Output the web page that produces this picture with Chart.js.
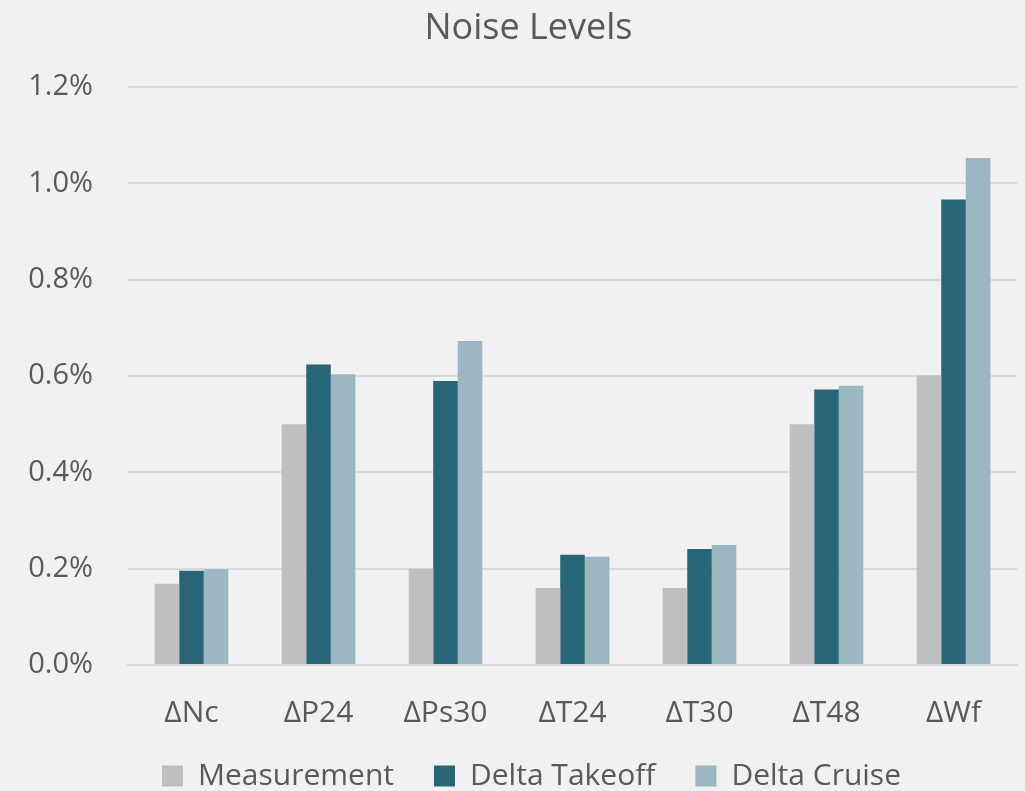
<!DOCTYPE html>
<html>
<head>
<meta charset="utf-8">
<script src="https://cdn.jsdelivr.net/npm/chart.js@4/dist/chart.umd.min.js"></script>
<style>
  html, body { margin: 0; padding: 0; background: #f1f1f1; }
  #wrap { width: 1025px; height: 791px; }
</style>
</head>
<body>
<div id="wrap"><canvas id="chart" width="1025" height="791"></canvas></div>
<script>
// Sensor parameters on the x axis
const categories = ['ΔNc', 'ΔP24', 'ΔPs30', 'ΔT24', 'ΔT30', 'ΔT48', 'ΔWf'];

// Noise levels, in percent
const measurement  = [0.169, 0.500, 0.200, 0.160, 0.160, 0.500, 0.601];
const deltaTakeoff = [0.196, 0.624, 0.590, 0.229, 0.241, 0.572, 0.967];
const deltaCruise  = [0.199, 0.604, 0.673, 0.225, 0.249, 0.580, 1.053];

const yTicks = [0, 0.2, 0.4, 0.6, 0.8, 1.0, 1.2];

const FONT = "'Open Sans', 'Noto Sans', sans-serif";
const TEXT = '#595959';

// Paint the page-grey background behind everything
const bgPlugin = {
  id: 'bg',
  beforeDraw(chart) {
    const c = chart.ctx;
    c.save();
    c.fillStyle = '#f1f1f1';
    c.fillRect(0, 0, chart.width, chart.height);
    c.restore();
  }
};

// Nudge title and legend: centre them a little right of the canvas middle,
// and lift the legend so the plot can use the space below the x labels.
const LEGEND_LIFT = 32;
const blockShift = {
  id: 'blockShift',
  afterLayout(chart) {
    const lg = chart.legend;
    if (lg) {
      lg.top -= LEGEND_LIFT;
      lg.bottom -= LEGEND_LIFT;
      lg.left += 46;
    }
    if (chart.titleBlock) chart.titleBlock.left += 40;
  }
};

new Chart(document.getElementById('chart'), {
  type: 'bar',
  data: {
    labels: categories,
    datasets: [
      { label: 'Measurement',   data: measurement,  backgroundColor: '#bfbfbf' },
      { label: 'Delta Takeoff', data: deltaTakeoff, backgroundColor: '#266677' },
      { label: 'Delta Cruise',  data: deltaCruise,  backgroundColor: '#9bb8c2' }
    ]
  },
  options: {
    responsive: false,
    animation: false,
    devicePixelRatio: 1,
    layout: { padding: { left: 0, right: 8, top: 5, bottom: -10 - LEGEND_LIFT } },
    datasets: { bar: { barPercentage: 1.0, categoryPercentage: 0.58 } },
    plugins: {
      title: {
        display: true,
        text: 'Noise Levels',
        color: TEXT,
        font: { family: FONT, size: 36, weight: 'normal' },
        padding: { top: 2, bottom: 37 }
      },
      legend: {
        position: 'bottom',
        labels: {
          color: TEXT,
          font: { family: FONT, size: 30 },
          boxWidth: 21,
          boxHeight: 21,
          padding: 40
        }
      },
      tooltip: { enabled: false }
    },
    scales: {
      x: {
        grid: { display: false },
        border: { display: true, color: '#d9d9d9', width: 2 },
        ticks: { color: TEXT, font: { family: FONT, size: 30 }, padding: 22 }
      },
      y: {
        min: 0,
        max: 1.2,
        afterBuildTicks(axis) { axis.ticks = yTicks.map(v => ({ value: v })); },
        afterFit(axis) { axis.width = 128; },
        grid: { color: '#d9d9d9', lineWidth: 2, drawTicks: false },
        border: { display: false },
        ticks: {
          color: TEXT,
          font: { family: FONT, size: 29 },
          padding: 35,
          callback: v => v.toFixed(1) + '%'
        }
      }
    }
  },
  plugins: [bgPlugin, blockShift]
});
</script>
</body>
</html>
